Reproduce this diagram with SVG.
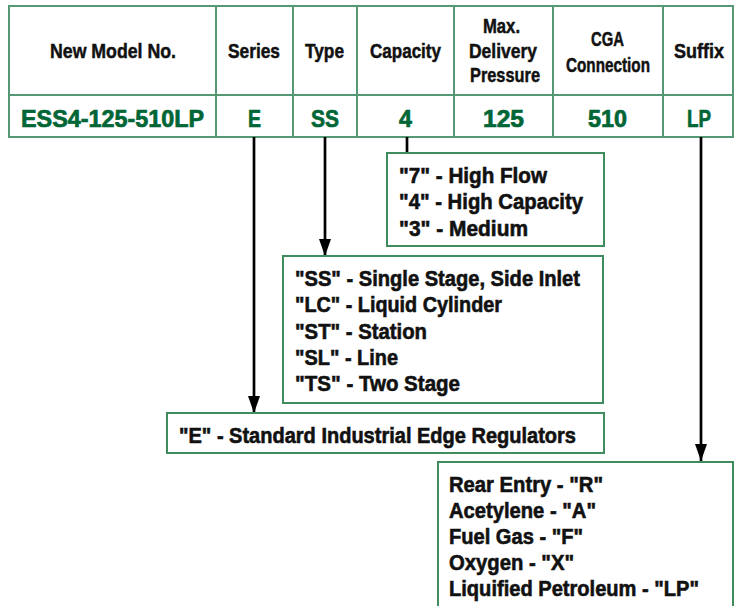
<svg xmlns="http://www.w3.org/2000/svg" width="736" height="606" viewBox="0 0 736 606">
<defs>
<style>
.grid{fill:none;stroke:#559873;stroke-width:2}
.box{fill:#fff;stroke:#3f8c5e;stroke-width:2}
.h{font-family:"Liberation Sans",Arial,sans-serif;font-weight:bold;font-size:21px;fill:#111;stroke:#111;stroke-width:0.5}
.v{font-family:"Liberation Sans",Arial,sans-serif;font-weight:bold;font-size:24px;fill:#006636;stroke:#006636;stroke-width:0.7}
.t{font-family:"Liberation Sans",Arial,sans-serif;font-weight:bold;font-size:22px;fill:#111;stroke:#111;stroke-width:0.6}
.c{stroke:#000;stroke-width:2.7;fill:none}
</style>
<marker id="ah" markerUnits="userSpaceOnUse" markerWidth="17" markerHeight="12" refX="17" refY="6" orient="auto" viewBox="0 0 17 12">
<path d="M0,0 L17,6 L0,12 Z" fill="#000"/>
</marker>
</defs>
<rect width="736" height="606" fill="#fff"/>
<g id="table">
<rect class="grid" x="9" y="6" width="724" height="131"/>
<line class="grid" x1="9" y1="95" x2="733" y2="95"/>
<line class="grid" x1="216" y1="6" x2="216" y2="137"/>
<line class="grid" x1="293" y1="6" x2="293" y2="137"/>
<line class="grid" x1="357" y1="6" x2="357" y2="137"/>
<line class="grid" x1="454" y1="6" x2="454" y2="137"/>
<line class="grid" x1="553" y1="6" x2="553" y2="137"/>
<line class="grid" x1="663" y1="6" x2="663" y2="137"/>
<text class="h" x="50" y="58" textLength="126" lengthAdjust="spacingAndGlyphs">New Model No.</text>
<text class="h" x="228" y="58" textLength="52" lengthAdjust="spacingAndGlyphs">Series</text>
<text class="h" x="305" y="58" textLength="39" lengthAdjust="spacingAndGlyphs">Type</text>
<text class="h" x="370" y="58" textLength="71" lengthAdjust="spacingAndGlyphs">Capacity</text>
<text class="h" x="483" y="33" textLength="37" lengthAdjust="spacingAndGlyphs">Max.</text>
<text class="h" x="469" y="58" textLength="68" lengthAdjust="spacingAndGlyphs">Delivery</text>
<text class="h" x="470" y="82" textLength="70" lengthAdjust="spacingAndGlyphs">Pressure</text>
<text class="h" x="591" y="46" textLength="33" lengthAdjust="spacingAndGlyphs">CGA</text>
<text class="h" x="566" y="72" textLength="84" lengthAdjust="spacingAndGlyphs">Connection</text>
<text class="h" x="674" y="58" textLength="50" lengthAdjust="spacingAndGlyphs">Suffix</text>
<text class="v" x="21" y="127" textLength="183" lengthAdjust="spacingAndGlyphs">ESS4-125-510LP</text>
<text class="v" x="248" y="127" textLength="13" lengthAdjust="spacingAndGlyphs">E</text>
<text class="v" x="311" y="127" textLength="28" lengthAdjust="spacingAndGlyphs">SS</text>
<text class="v" x="399" y="127" textLength="13" lengthAdjust="spacingAndGlyphs">4</text>
<text class="v" x="483" y="127" textLength="41" lengthAdjust="spacingAndGlyphs">125</text>
<text class="v" x="588" y="127" textLength="39" lengthAdjust="spacingAndGlyphs">510</text>
<text class="v" x="687" y="127" textLength="24" lengthAdjust="spacingAndGlyphs">LP</text>
</g>
<g id="connectors">
<line class="c" x1="407" y1="137" x2="407" y2="153"/>
<line class="c" x1="325" y1="137" x2="325" y2="256" marker-end="url(#ah)"/>
<line class="c" x1="254" y1="137" x2="254" y2="413" marker-end="url(#ah)"/>
<line class="c" x1="701" y1="137" x2="701" y2="461" marker-end="url(#ah)"/>
</g>
<g id="capacity-box">
<rect class="box" x="387" y="153" width="217" height="93"/>
<text class="t" x="399" y="183" textLength="148" lengthAdjust="spacingAndGlyphs">"7" - High Flow</text>
<text class="t" x="399" y="209" textLength="184" lengthAdjust="spacingAndGlyphs">"4" - High Capacity</text>
<text class="t" x="399" y="236" textLength="129" lengthAdjust="spacingAndGlyphs">"3" - Medium</text>
</g>
<g id="type-box">
<rect class="box" x="283" y="256" width="320" height="147"/>
<text class="t" x="295" y="286" textLength="285" lengthAdjust="spacingAndGlyphs">"SS" - Single Stage, Side Inlet</text>
<text class="t" x="295" y="312" textLength="207" lengthAdjust="spacingAndGlyphs">"LC" - Liquid Cylinder</text>
<text class="t" x="295" y="339" textLength="132" lengthAdjust="spacingAndGlyphs">"ST" - Station</text>
<text class="t" x="295" y="365" textLength="103" lengthAdjust="spacingAndGlyphs">"SL" - Line</text>
<text class="t" x="295" y="391" textLength="165" lengthAdjust="spacingAndGlyphs">"TS" - Two Stage</text>
</g>
<g id="series-box">
<rect class="box" x="167" y="413" width="437" height="40"/>
<text class="t" x="179" y="443" textLength="397" lengthAdjust="spacingAndGlyphs">"E" - Standard Industrial Edge Regulators</text>
</g>
<g id="suffix-box">
<rect class="box" x="438" y="462" width="295" height="160"/>
<text class="t" x="449" y="492" textLength="154" lengthAdjust="spacingAndGlyphs">Rear Entry - "R"</text>
<text class="t" x="449" y="518" textLength="147" lengthAdjust="spacingAndGlyphs">Acetylene - "A"</text>
<text class="t" x="449" y="544" textLength="134" lengthAdjust="spacingAndGlyphs">Fuel Gas - "F"</text>
<text class="t" x="449" y="570" textLength="125" lengthAdjust="spacingAndGlyphs">Oxygen - "X"</text>
<text class="t" x="449" y="596" textLength="250" lengthAdjust="spacingAndGlyphs">Liquified Petroleum - "LP"</text>
</g>
</svg>
